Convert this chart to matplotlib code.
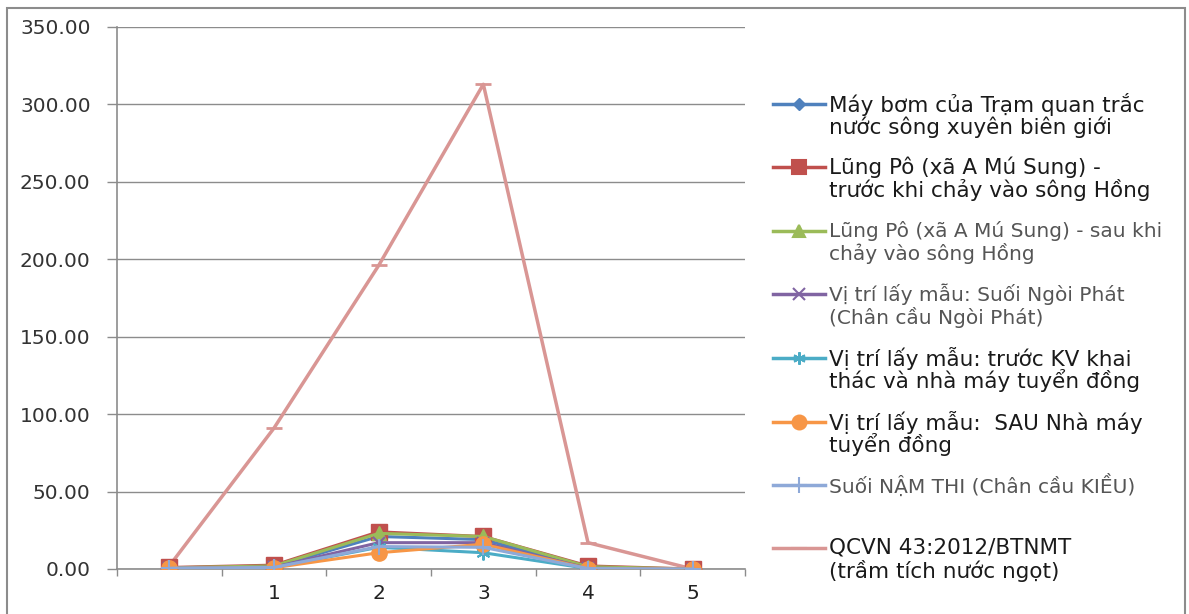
import matplotlib.pyplot as plt
from matplotlib.lines import Line2D
from matplotlib.patches import Rectangle
import numpy as np

categories = ['', '1', '2', '3', '4', '5']

may_bom = [0.8, 1.5, 21.0, 19.0, 0.5, 0.0]
lung_po_truoc = [1.0, 2.5, 24.0, 21.0, 2.0, 0.0]
lung_po_sau = [0.8, 2.0, 23.0, 21.0, 1.5, 0.0]
ngoi_phat = [0.5, 1.2, 17.0, 17.0, 0.5, 0.0]
truoc_kv = [0.5, 1.0, 14.0, 10.5, 0.3, 0.0]
sau_nha_may = [0.5, 0.8, 10.5, 16.0, 0.3, 0.0]
nam_thi = [0.5, 1.0, 14.5, 14.0, 0.3, 0.0]
qcvn = [2.0, 91.0, 196.0, 313.0, 17.0, 0.0]

labels = [
    'Máy bơm của Trạm quan trắc\nnước sông xuyên biên giới',
    'Lũng Pô (xã A Mú Sung) -\ntrước khi chảy vào sông Hồng',
    'Lũng Pô (xã A Mú Sung) - sau khi\nchảy vào sông Hồng',
    'Vị trí lấy mẫu: Suối Ngòi Phát\n(Chân cầu Ngòi Phát)',
    'Vị trí lấy mẫu: trước KV khai\nthác và nhà máy tuyển đồng',
    'Vị trí lấy mẫu:  SAU Nhà máy\ntuyển đồng',
    'Suối NẬM THI (Chân cầu KIỀU)',
    'QCVN 43:2012/BTNMT\n(trầm tích nước ngọt)',
]

series = [may_bom, lung_po_truoc, lung_po_sau, ngoi_phat, truoc_kv, sau_nha_may, nam_thi, qcvn]
colors = ['#4F81BD', '#C0504D', '#9BBB59', '#8064A2', '#4BACC6', '#F79646', '#8EA9D8', '#D99694']
markers = ['D', 's', '^', 'x', (6, 2, 0), 'o', '+', '_']
msizes = [7, 11, 10, 9, 10, 11, 12, 12]
text_colors = ['#1a1a1a', '#1a1a1a', '#555555', '#555555', '#1a1a1a', '#1a1a1a', '#555555', '#1a1a1a']
text_sizes = [15.5, 15.5, 14.5, 14.5, 15.5, 15.5, 14.5, 15.5]

W, H = 1189, 614
fig = plt.figure(figsize=(W / 100, H / 100), dpi=100)
fig.patches.append(Rectangle((7 / W, -0.01), (1185 - 7) / W, (H - 8) / H + 0.01,
                             transform=fig.transFigure, fill=False, edgecolor='#8c8c8c', linewidth=1.5))

ax = fig.add_axes([117 / W, (H - 569) / H, (745 - 117) / W, (569 - 27) / H])
x = np.arange(len(categories))
draw_order = [7, 0, 1, 2, 3, 4, 5, 6]
for i in draw_order:
    mew = 1.5 if markers[i] in ('x', '+', '_') or isinstance(markers[i], tuple) else 1
    ax.plot(x, series[i], color=colors[i], linewidth=2.5 if i == 7 else 2.2,
            marker=markers[i], markersize=msizes[i], markeredgewidth=2 if i == 7 else mew,
            markeredgecolor=colors[i], zorder=3 if i == 7 else 4)

ax.set_xlim(-0.5, 5.5)
ax.set_ylim(0, 350)
ax.set_yticks(np.arange(0, 351, 50))
ax.set_yticklabels(['%.2f' % v for v in np.arange(0, 351, 50)], fontsize=14.5, color='#333333')
ax.set_xticks(x)
ax.set_xticklabels(categories, fontsize=14.5, color='#222222')
ax.set_xticks(np.arange(-0.5, 5.6, 1), minor=True)
ax.tick_params(axis='x', which='major', length=0, pad=11)
ax.tick_params(axis='x', which='minor', length=5, color='#8c8c8c', width=1)
ax.tick_params(axis='y', length=7, color='#8c8c8c', width=1, pad=12)
ax.grid(axis='y', color='#8c8c8c', linewidth=1)
ax.set_axisbelow(True)
for s in ['top', 'right']:
    ax.spines[s].set_visible(False)
for s in ['left', 'bottom']:
    ax.spines[s].set_color('#8c8c8c')
    ax.spines[s].set_linewidth(1.2)

# manual legend, entries spaced like the Excel one
handle_y = [104, 167, 231, 294, 358, 422, 485, 548]
for i, lab in enumerate(labels):
    yf = 1 - handle_y[i] / H
    fig.add_artist(Line2D([773 / W, 825 / W], [yf, yf], transform=fig.transFigure,
                          color=colors[i], linewidth=2.5))
    fig.add_artist(Line2D([799 / W], [yf], transform=fig.transFigure, color=colors[i],
                          marker=markers[i], markersize=msizes[i] - 1,
                          markeredgecolor=colors[i], markeredgewidth=1.5 if i != 0 else 1))
    for j, line in enumerate(lab.split('\n')):
        fig.text(829 / W, 1 - (handle_y[i] + j * 23) / H, line, fontsize=text_sizes[i],
                 color=text_colors[i], va='center', ha='left')

fig.savefig('out.png', dpi=100)
